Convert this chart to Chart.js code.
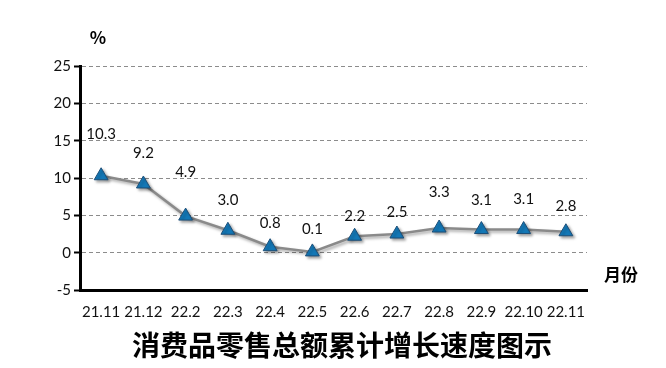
<!DOCTYPE html>
<html>
<head>
<meta charset="utf-8">
<script src="https://cdn.jsdelivr.net/npm/chart.js@4"></script>
<style>
  html, body { margin: 0; padding: 0; background: #fff; }
  #wrap { width: 666px; height: 368px; }
</style>
</head>
<body>
<div id="wrap"><canvas id="growth"></canvas></div>
<script>
var months = ['21.11', '21.12', '22.2', '22.3', '22.4', '22.5', '22.6', '22.7', '22.8', '22.9', '22.10', '22.11']
var growth = [10.3, 9.2, 4.9, 3.0, 0.8, 0.1, 2.2, 2.5, 3.3, 3.1, 3.1, 2.8]
var yTicks = [-5, 0, 5, 10, 15, 20, 25]
// how far each value label sits above its marker (px), like the original
var labelLift = [42, 31, 44, 30, 24, 23, 20, 22, 36, 29, 30, 26]

var tickFont = { family: 'Lato', size: 15 }

var extras = {
    id: 'extras',
    beforeDatasetDraw: function (chart) {
        var c = chart.ctx
        c.save()
        c.shadowColor = 'rgba(0,0,0,0.35)'
        c.shadowBlur = 3
        c.shadowOffsetX = 2
        c.shadowOffsetY = 2
    },
    afterDatasetDraw: function (chart) {
        chart.ctx.restore()
    },
    afterDatasetsDraw: function (chart) {
        var c = chart.ctx
        var pts = chart.getDatasetMeta(0).data
        c.save()
        c.fillStyle = '#111'
        c.font = '15px Lato'
        c.textAlign = 'center'
        c.textBaseline = 'middle'
        for (var i = 0; i < pts.length; i++) {
            c.fillText(growth[i].toFixed(1), pts[i].x, pts[i].y - labelLift[i])
        }
        c.font = 'bold 17px "Noto Sans CJK SC"'
        c.fillStyle = '#000'
        c.fillText('%', 98, 38)
        c.fillText('月份', 621, 275)
        c.font = 'bold 28px "Noto Sans CJK SC"'
        c.fillText('消费品零售总额累计增长速度图示', 342, 345)
        c.restore()
    }
}

var ctx = document.getElementById('growth').getContext('2d')

new Chart(ctx, {
    type: 'line',
    data: {
        labels: months,
        datasets: [{
            data: growth,
            borderColor: '#8a8a8a',
            borderWidth: 2.5,
            pointStyle: 'triangle',
            pointRadius: 8,
            pointBackgroundColor: '#1479b8',
            pointBorderColor: '#1d4f78',
            pointBorderWidth: 1,
            tension: 0
        }]
    },
    options: {
        responsive: true,
        maintainAspectRatio: false,
        animation: false,
        layout: { padding: { top: 66, right: 79, left: 0, bottom: 0 } },
        plugins: { legend: { display: false }, tooltip: { enabled: false } },
        scales: {
            x: {
                offset: true,
                afterFit: function (s) { s.height = 78 },
                border: { color: '#000', width: 3 },
                grid: { display: false },
                ticks: { color: '#111', font: tickFont, padding: 5, maxRotation: 0 }
            },
            y: {
                min: -5,
                max: 25,
                afterFit: function (s) { s.width = 80 },
                afterBuildTicks: function (s) { s.ticks = yTicks.map(function (v) { return { value: v } }) },
                border: { color: '#000', width: 3, dash: [4, 3] },
                grid: {
                    color: '#8c8c8c',
                    lineWidth: 1,
                    drawTicks: true,
                    tickLength: 6,
                    tickColor: '#000',
                    tickWidth: 2,
                    tickBorderDash: []
                },
                ticks: { color: '#111', font: tickFont, padding: 3 }
            }
        }
    },
    plugins: [extras]
})
</script>
</body>
</html>
